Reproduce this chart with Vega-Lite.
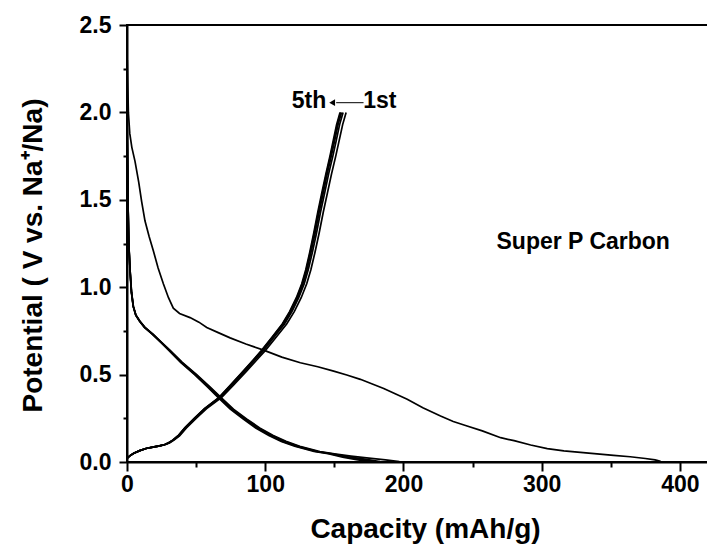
{
  "$schema": "https://vega.github.io/schema/vega-lite/v6.json",
  "width": 582,
  "height": 437,
  "autosize": {"type": "none"},
  "padding": {"left": 127, "top": 25, "right": 0, "bottom": 90},
  "background": "white",
  "config": {"view": {"stroke": "black", "strokeWidth": 2}, "font": "Liberation Sans"},
  "encoding": {
    "x": {
      "field": "x", "type": "quantitative",
      "scale": {"domain": [0, 421], "nice": false, "zero": false},
      "axis": {
        "title": "Capacity (mAh/g)",
        "values": [0, 50, 100, 150, 200, 250, 300, 350, 400],
        "labelExpr": "datum.value % 100 === 0 ? format(datum.value, 'd') : ''",
        "tickSize": {"condition": {"test": "datum.value % 100 === 0", "value": 9}, "value": 5},
        "grid": false, "domainColor": "black", "domainWidth": 2, "tickColor": "black", "tickWidth": 2,
        "labelFont": "Liberation Sans", "labelFontSize": 23, "labelFontWeight": "bold", "labelColor": "black",
        "labelPadding": 2, "labelFlush": false, "labelOverlap": false,
        "titleFont": "Liberation Sans", "titleFontSize": 28, "titleFontWeight": "bold", "titleColor": "black",
        "titleX": 298, "titleY": 75, "titleBaseline": "alphabetic", "titleAlign": "center"
      }
    },
    "y": {
      "field": "y", "type": "quantitative",
      "scale": {"domain": [0, 2.5], "nice": false, "zero": false},
      "axis": {
        "title": "Potential ( V vs. Na⁺/Na)",
        "values": [0, 0.25, 0.5, 0.75, 1, 1.25, 1.5, 1.75, 2, 2.25, 2.5],
        "labelExpr": "datum.value % 0.5 === 0 ? format(datum.value, '.1f') : ''",
        "tickSize": {"condition": {"test": "datum.value % 0.5 === 0", "value": 8}, "value": 4},
        "grid": false, "domainColor": "black", "domainWidth": 2, "tickColor": "black", "tickWidth": 2,
        "labelFont": "Liberation Sans", "labelFontSize": 23, "labelFontWeight": "bold", "labelColor": "black",
        "labelPadding": 8, "labelFlush": false, "labelOverlap": false,
        "titleFont": "Liberation Sans", "titleFontSize": 28, "titleFontWeight": "bold", "titleColor": "black",
        "titleX": -86, "titleY": 230, "titleAngle": -90, "titleBaseline": "alphabetic", "titleAlign": "center"
      }
    }
  },
  "layer": [
    {
      "data": {"values": [
        {"s":"d1","x":0.2,"y":2.3},{"s":"d1","x":0.6,"y":2.15},{"s":"d1","x":1,"y":2.0},{"s":"d1","x":2,"y":1.88},{"s":"d1","x":3.5,"y":1.8},{"s":"d1","x":5.8,"y":1.72},{"s":"d1","x":8.5,"y":1.6},{"s":"d1","x":10.6,"y":1.49},{"s":"d1","x":13,"y":1.38},{"s":"d1","x":16,"y":1.29},{"s":"d1","x":19,"y":1.21},{"s":"d1","x":22.5,"y":1.11},{"s":"d1","x":26.3,"y":1.02},{"s":"d1","x":30,"y":0.94},{"s":"d1","x":33.5,"y":0.88},{"s":"d1","x":38,"y":0.85},{"s":"d1","x":45.6,"y":0.826},{"s":"d1","x":52,"y":0.8},{"s":"d1","x":57.7,"y":0.77},{"s":"d1","x":66,"y":0.74},{"s":"d1","x":74.6,"y":0.71},{"s":"d1","x":86,"y":0.675},{"s":"d1","x":98.8,"y":0.64},{"s":"d1","x":112,"y":0.6},{"s":"d1","x":125.4,"y":0.568},{"s":"d1","x":138,"y":0.545},{"s":"d1","x":149.5,"y":0.52},{"s":"d1","x":159,"y":0.498},{"s":"d1","x":168.8,"y":0.473},{"s":"d1","x":177,"y":0.448},{"s":"d1","x":185.7,"y":0.42},{"s":"d1","x":194,"y":0.39},{"s":"d1","x":202.7,"y":0.359},{"s":"d1","x":214,"y":0.31},{"s":"d1","x":226.8,"y":0.263},{"s":"d1","x":236,"y":0.232},{"s":"d1","x":246,"y":0.206},{"s":"d1","x":257,"y":0.178},{"s":"d1","x":270.3,"y":0.139},{"s":"d1","x":280,"y":0.122},{"s":"d1","x":292,"y":0.097},{"s":"d1","x":304,"y":0.077},{"s":"d1","x":316,"y":0.064},{"s":"d1","x":328,"y":0.055},{"s":"d1","x":340,"y":0.046},{"s":"d1","x":352,"y":0.038},{"s":"d1","x":364,"y":0.03},{"s":"d1","x":375,"y":0.02},{"s":"d1","x":382,"y":0.012},{"s":"d1","x":386,"y":0.004},

        {"s":"d2","x":0,"y":2.0},{"s":"d2","x":0.4,"y":1.7},{"s":"d2","x":0.8,"y":1.45},{"s":"d2","x":1.3,"y":1.25},{"s":"d2","x":2.2,"y":1.1},{"s":"d2","x":3.3,"y":0.97},{"s":"d2","x":4.6,"y":0.89},{"s":"d2","x":6.5,"y":0.84},{"s":"d2","x":9.4,"y":0.805},{"s":"d2","x":13,"y":0.77},{"s":"d2","x":19,"y":0.73},{"s":"d2","x":25,"y":0.685},{"s":"d2","x":31,"y":0.64},{"s":"d2","x":40,"y":0.57},{"s":"d2","x":50.4,"y":0.5},{"s":"d2","x":60,"y":0.43},{"s":"d2","x":68.5,"y":0.365},{"s":"d2","x":77,"y":0.302},{"s":"d2","x":86.5,"y":0.247},{"s":"d2","x":96,"y":0.195},{"s":"d2","x":105.8,"y":0.152},{"s":"d2","x":115,"y":0.118},{"s":"d2","x":125,"y":0.09},{"s":"d2","x":139.5,"y":0.06},{"s":"d2","x":150,"y":0.047},{"s":"d2","x":162,"y":0.034},{"s":"d2","x":175,"y":0.022},{"s":"d2","x":187,"y":0.012},{"s":"d2","x":197,"y":0.002},

        {"s":"d3","x":0,"y":2.0},{"s":"d3","x":0.4,"y":1.7},{"s":"d3","x":0.8,"y":1.45},{"s":"d3","x":1.3,"y":1.25},{"s":"d3","x":2.2,"y":1.1},{"s":"d3","x":3.3,"y":0.97},{"s":"d3","x":4.6,"y":0.89},{"s":"d3","x":6.4,"y":0.84},{"s":"d3","x":9.3,"y":0.805},{"s":"d3","x":12.9,"y":0.77},{"s":"d3","x":18.8,"y":0.73},{"s":"d3","x":24.8,"y":0.685},{"s":"d3","x":30.7,"y":0.64},{"s":"d3","x":39.6,"y":0.57},{"s":"d3","x":49.9,"y":0.5},{"s":"d3","x":59.4,"y":0.43},{"s":"d3","x":67.8,"y":0.365},{"s":"d3","x":76.2,"y":0.302},{"s":"d3","x":85.6,"y":0.247},{"s":"d3","x":95,"y":0.195},{"s":"d3","x":104.7,"y":0.152},{"s":"d3","x":113.9,"y":0.118},{"s":"d3","x":123.8,"y":0.09},{"s":"d3","x":138.1,"y":0.06},{"s":"d3","x":148.5,"y":0.047},{"s":"d3","x":160,"y":0.03},{"s":"d3","x":172,"y":0.016},{"s":"d3","x":183,"y":0.002},

        {"s":"d4","x":0,"y":2.0},{"s":"d4","x":0.4,"y":1.7},{"s":"d4","x":0.8,"y":1.45},{"s":"d4","x":1.3,"y":1.25},{"s":"d4","x":2.2,"y":1.1},{"s":"d4","x":3.2,"y":0.97},{"s":"d4","x":4.5,"y":0.89},{"s":"d4","x":6.4,"y":0.84},{"s":"d4","x":9.2,"y":0.805},{"s":"d4","x":12.7,"y":0.77},{"s":"d4","x":18.6,"y":0.73},{"s":"d4","x":24.5,"y":0.685},{"s":"d4","x":30.4,"y":0.64},{"s":"d4","x":39.2,"y":0.57},{"s":"d4","x":49.4,"y":0.5},{"s":"d4","x":58.8,"y":0.43},{"s":"d4","x":67.1,"y":0.365},{"s":"d4","x":75.5,"y":0.302},{"s":"d4","x":84.8,"y":0.247},{"s":"d4","x":94.1,"y":0.195},{"s":"d4","x":103.7,"y":0.152},{"s":"d4","x":112.7,"y":0.118},{"s":"d4","x":122.5,"y":0.09},{"s":"d4","x":136.7,"y":0.06},{"s":"d4","x":147,"y":0.047},{"s":"d4","x":158,"y":0.029},{"s":"d4","x":169,"y":0.015},{"s":"d4","x":179,"y":0.002},

        {"s":"d5","x":0,"y":2.0},{"s":"d5","x":0.4,"y":1.7},{"s":"d5","x":0.8,"y":1.45},{"s":"d5","x":1.3,"y":1.25},{"s":"d5","x":2.1,"y":1.1},{"s":"d5","x":3.2,"y":0.97},{"s":"d5","x":4.5,"y":0.89},{"s":"d5","x":6.3,"y":0.84},{"s":"d5","x":9.1,"y":0.805},{"s":"d5","x":12.6,"y":0.77},{"s":"d5","x":18.4,"y":0.73},{"s":"d5","x":24.3,"y":0.685},{"s":"d5","x":30.1,"y":0.64},{"s":"d5","x":38.8,"y":0.57},{"s":"d5","x":48.9,"y":0.5},{"s":"d5","x":58.2,"y":0.43},{"s":"d5","x":66.4,"y":0.365},{"s":"d5","x":74.7,"y":0.302},{"s":"d5","x":83.9,"y":0.247},{"s":"d5","x":93.1,"y":0.195},{"s":"d5","x":102.6,"y":0.152},{"s":"d5","x":111.6,"y":0.118},{"s":"d5","x":121.3,"y":0.09},{"s":"d5","x":135.3,"y":0.06},{"s":"d5","x":145.5,"y":0.047},{"s":"d5","x":156,"y":0.028},{"s":"d5","x":166,"y":0.014},{"s":"d5","x":175,"y":0.002},

        {"s":"c1","x":0,"y":0.02},{"s":"c1","x":2,"y":0.035},{"s":"c1","x":5,"y":0.05},{"s":"c1","x":9.4,"y":0.065},{"s":"c1","x":14,"y":0.077},{"s":"c1","x":19,"y":0.085},{"s":"c1","x":24,"y":0.092},{"s":"c1","x":28,"y":0.1},{"s":"c1","x":31,"y":0.11},{"s":"c1","x":34,"y":0.125},{"s":"c1","x":38,"y":0.15},{"s":"c1","x":43,"y":0.195},{"s":"c1","x":50,"y":0.25},{"s":"c1","x":57.6,"y":0.305},{"s":"c1","x":68.5,"y":0.37},{"s":"c1","x":77,"y":0.44},{"s":"c1","x":86.5,"y":0.52},{"s":"c1","x":94,"y":0.585},{"s":"c1","x":100,"y":0.637},{"s":"c1","x":108,"y":0.715},{"s":"c1","x":115.5,"y":0.79},{"s":"c1","x":121,"y":0.86},{"s":"c1","x":126,"y":0.94},{"s":"c1","x":130,"y":1.02},{"s":"c1","x":133,"y":1.1},{"s":"c1","x":136,"y":1.2},{"s":"c1","x":139,"y":1.31},{"s":"c1","x":142,"y":1.43},{"s":"c1","x":145,"y":1.54},{"s":"c1","x":148,"y":1.65},{"s":"c1","x":151,"y":1.75},{"s":"c1","x":153.5,"y":1.84},{"s":"c1","x":156,"y":1.93},{"s":"c1","x":158.5,"y":2.0},

        {"s":"c2","x":0,"y":0.02},{"s":"c2","x":2,"y":0.035},{"s":"c2","x":4.9,"y":0.05},{"s":"c2","x":9.3,"y":0.065},{"s":"c2","x":13.8,"y":0.077},{"s":"c2","x":18.7,"y":0.085},{"s":"c2","x":23.7,"y":0.092},{"s":"c2","x":27.6,"y":0.1},{"s":"c2","x":30.6,"y":0.11},{"s":"c2","x":33.5,"y":0.125},{"s":"c2","x":37.5,"y":0.15},{"s":"c2","x":42.4,"y":0.195},{"s":"c2","x":49.3,"y":0.25},{"s":"c2","x":56.8,"y":0.305},{"s":"c2","x":67.5,"y":0.37},{"s":"c2","x":75.9,"y":0.44},{"s":"c2","x":85.3,"y":0.52},{"s":"c2","x":92.7,"y":0.585},{"s":"c2","x":98.6,"y":0.637},{"s":"c2","x":106.5,"y":0.715},{"s":"c2","x":113.9,"y":0.79},{"s":"c2","x":119.3,"y":0.86},{"s":"c2","x":124.2,"y":0.94},{"s":"c2","x":128.2,"y":1.02},{"s":"c2","x":131.1,"y":1.1},{"s":"c2","x":134.1,"y":1.2},{"s":"c2","x":137.1,"y":1.31},{"s":"c2","x":140,"y":1.43},{"s":"c2","x":143,"y":1.54},{"s":"c2","x":145.9,"y":1.65},{"s":"c2","x":148.9,"y":1.75},{"s":"c2","x":151.4,"y":1.84},{"s":"c2","x":153.8,"y":1.93},{"s":"c2","x":156.3,"y":2.0},

        {"s":"c3","x":0,"y":0.02},{"s":"c3","x":2,"y":0.035},{"s":"c3","x":4.9,"y":0.05},{"s":"c3","x":9.2,"y":0.065},{"s":"c3","x":13.7,"y":0.077},{"s":"c3","x":18.6,"y":0.085},{"s":"c3","x":23.5,"y":0.092},{"s":"c3","x":27.4,"y":0.1},{"s":"c3","x":30.3,"y":0.11},{"s":"c3","x":33.3,"y":0.125},{"s":"c3","x":37.2,"y":0.15},{"s":"c3","x":42.1,"y":0.195},{"s":"c3","x":49,"y":0.25},{"s":"c3","x":56.4,"y":0.305},{"s":"c3","x":67.1,"y":0.37},{"s":"c3","x":75.4,"y":0.44},{"s":"c3","x":84.7,"y":0.52},{"s":"c3","x":92,"y":0.585},{"s":"c3","x":97.9,"y":0.637},{"s":"c3","x":105.7,"y":0.715},{"s":"c3","x":113.1,"y":0.79},{"s":"c3","x":118.5,"y":0.86},{"s":"c3","x":123.4,"y":0.94},{"s":"c3","x":127.3,"y":1.02},{"s":"c3","x":130.2,"y":1.1},{"s":"c3","x":133.1,"y":1.2},{"s":"c3","x":136.1,"y":1.31},{"s":"c3","x":139,"y":1.43},{"s":"c3","x":142,"y":1.54},{"s":"c3","x":144.9,"y":1.65},{"s":"c3","x":147.8,"y":1.75},{"s":"c3","x":150.3,"y":1.84},{"s":"c3","x":152.7,"y":1.93},{"s":"c3","x":155.2,"y":2.0},

        {"s":"c4","x":0,"y":0.02},{"s":"c4","x":2,"y":0.035},{"s":"c4","x":4.9,"y":0.05},{"s":"c4","x":9.2,"y":0.065},{"s":"c4","x":13.7,"y":0.077},{"s":"c4","x":18.5,"y":0.085},{"s":"c4","x":23.4,"y":0.092},{"s":"c4","x":27.3,"y":0.1},{"s":"c4","x":30.2,"y":0.11},{"s":"c4","x":33.2,"y":0.125},{"s":"c4","x":37.1,"y":0.15},{"s":"c4","x":41.9,"y":0.195},{"s":"c4","x":48.8,"y":0.25},{"s":"c4","x":56.2,"y":0.305},{"s":"c4","x":66.8,"y":0.37},{"s":"c4","x":75.1,"y":0.44},{"s":"c4","x":84.3,"y":0.52},{"s":"c4","x":91.7,"y":0.585},{"s":"c4","x":97.5,"y":0.637},{"s":"c4","x":105.3,"y":0.715},{"s":"c4","x":112.6,"y":0.79},{"s":"c4","x":118,"y":0.86},{"s":"c4","x":122.9,"y":0.94},{"s":"c4","x":126.8,"y":1.02},{"s":"c4","x":129.7,"y":1.1},{"s":"c4","x":132.6,"y":1.2},{"s":"c4","x":135.5,"y":1.31},{"s":"c4","x":138.5,"y":1.43},{"s":"c4","x":141.4,"y":1.54},{"s":"c4","x":144.3,"y":1.65},{"s":"c4","x":147.2,"y":1.75},{"s":"c4","x":149.7,"y":1.84},{"s":"c4","x":152.1,"y":1.93},{"s":"c4","x":154.5,"y":2.0},

        {"s":"c5","x":0,"y":0.02},{"s":"c5","x":2,"y":0.035},{"s":"c5","x":4.9,"y":0.05},{"s":"c5","x":9.1,"y":0.065},{"s":"c5","x":13.6,"y":0.077},{"s":"c5","x":18.5,"y":0.085},{"s":"c5","x":23.3,"y":0.092},{"s":"c5","x":27.2,"y":0.1},{"s":"c5","x":30.1,"y":0.11},{"s":"c5","x":33,"y":0.125},{"s":"c5","x":36.9,"y":0.15},{"s":"c5","x":41.8,"y":0.195},{"s":"c5","x":48.6,"y":0.25},{"s":"c5","x":56,"y":0.305},{"s":"c5","x":66.6,"y":0.37},{"s":"c5","x":74.8,"y":0.44},{"s":"c5","x":84.1,"y":0.52},{"s":"c5","x":91.4,"y":0.585},{"s":"c5","x":97.2,"y":0.637},{"s":"c5","x":105,"y":0.715},{"s":"c5","x":112.3,"y":0.79},{"s":"c5","x":117.6,"y":0.86},{"s":"c5","x":122.5,"y":0.94},{"s":"c5","x":126.4,"y":1.02},{"s":"c5","x":129.3,"y":1.1},{"s":"c5","x":132.2,"y":1.2},{"s":"c5","x":135.1,"y":1.31},{"s":"c5","x":138,"y":1.43},{"s":"c5","x":140.9,"y":1.54},{"s":"c5","x":143.9,"y":1.65},{"s":"c5","x":146.8,"y":1.75},{"s":"c5","x":149.2,"y":1.84},{"s":"c5","x":151.6,"y":1.93},{"s":"c5","x":154.1,"y":2.0}
      ]},
      "mark": {"type": "line", "color": "black", "strokeWidth": 1.7},
      "encoding": {"detail": {"field": "s"}}
    },
    {
      "data": {"values": [{"x": 171.1, "y": 2.0555}, {"x": 151.3, "y": 2.0555}]},
      "mark": {"type": "line", "color": "black", "strokeWidth": 1},
      "encoding": {}
    },
    {
      "data": {"values": [{"x": 148.4, "y": 2.0555}]},
      "mark": {"type": "point", "shape": "triangle-left", "filled": true, "color": "black", "size": 45, "opacity": 1},
      "encoding": {}
    },
    {
      "data": {"values": [
        {"x": 131.7, "y": 2.023, "t": "5th"},
        {"x": 182.9, "y": 2.023, "t": "1st"},
        {"x": 330, "y": 1.219, "t": "Super P Carbon"}
      ]},
      "mark": {"type": "text", "font": "Liberation Sans", "fontSize": 23, "fontWeight": "bold", "color": "black", "align": "center", "baseline": "alphabetic"},
      "encoding": {"text": {"field": "t"}}
    }
  ]
}
